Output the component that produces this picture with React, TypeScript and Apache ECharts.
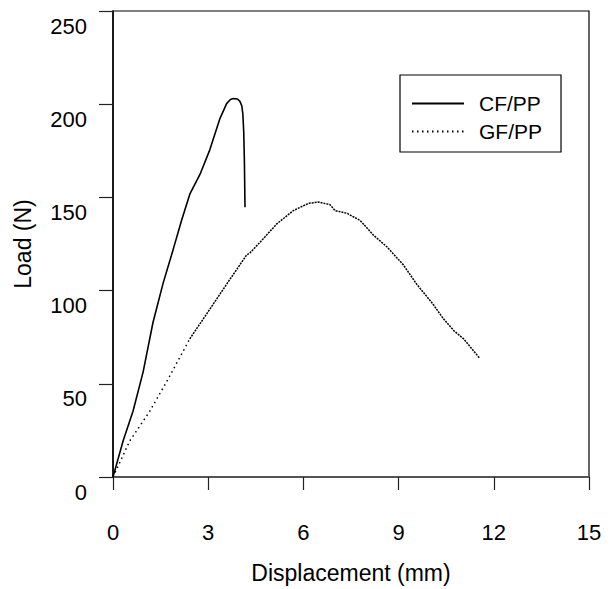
import React, { useEffect, useRef } from "react";
import * as echarts from "echarts";

const xTicks = [0, 3, 6, 9, 12, 15];
const yTicks = [0, 50, 100, 150, 200, 250];

const cfDisp = [0, 0.32, 0.63, 0.95, 1.26, 1.58, 1.89, 2.16, 2.42, 2.74, 3.05, 3.37, 3.58, 3.7, 3.79, 3.92, 4.0, 4.06, 4.09, 4.12, 4.14, 4.16];
const cfLoad = [0, 19.4, 35.3, 56.4, 82.9, 104, 121.7, 137.6, 151.7, 162.3, 175.5, 192.3, 200.3, 202.5, 203, 202.8, 201.5, 199, 195, 185, 170, 144.7];

const gfDisp = [0, 0.53, 1.16, 1.69, 2.42, 3.05, 3.68, 4.21, 4.32, 4.74, 5.16, 5.68, 6.16, 6.47, 6.84, 7.0, 7.37, 7.79, 8.21, 8.63, 9.15, 9.58, 10.05, 10.42, 10.74, 11.05, 11.55];
const gfLoad = [0, 19.4, 35.3, 51.1, 74.1, 90, 105.9, 119.1, 120.3, 127.9, 135.8, 142.9, 146.8, 147.5, 146.1, 142.9, 141.5, 137.6, 129.7, 123.5, 113.8, 103.2, 93.5, 84.7, 78.5, 74.1, 63.8];
const GF_SPLIT = 4;

const seriesNames = ["CF/PP", "GF/PP"];
const xName = "Displacement (mm)";
const yName = "Load (N)";

export default function App() {
  const ref = useRef<HTMLDivElement>(null);
  useEffect(() => {
    const chart = echarts.init(ref.current!, null, { renderer: "svg" });
    const font = "'Liberation Sans', Arial, Helvetica, sans-serif";
    const cf = cfDisp.map((x, i) => [x, cfLoad[i]]);
    const gf = gfDisp.map((x, i) => [x, gfLoad[i]]);
    chart.setOption({
      animation: false,
      backgroundColor: "#fff",
      grid: {
        left: 113,
        right: 22,
        top: 11,
        bottom: 106,
        show: true,
        borderColor: "#000",
        borderWidth: 1.2,
        backgroundColor: "transparent",
      },
      xAxis: {
        type: "value",
        min: xTicks[0],
        max: xTicks[xTicks.length - 1],
        interval: xTicks[1] - xTicks[0],
        name: xName,
        nameLocation: "middle",
        nameGap: 84,
        nameTextStyle: { fontSize: 23, color: "#000", fontFamily: font, lineHeight: 23 },
        axisLine: { onZero: false, lineStyle: { color: "#555", width: 2 } },
        axisTick: { inside: false, length: 13, lineStyle: { color: "#222", width: 1.2 } },
        axisLabel: { margin: 44, fontSize: 22, color: "#000", fontFamily: font, lineHeight: 22 },
        splitLine: { show: false },
      },
      yAxis: {
        type: "value",
        min: yTicks[0],
        max: yTicks[yTicks.length - 1],
        interval: yTicks[1] - yTicks[0],
        name: yName,
        nameLocation: "middle",
        nameGap: 79,
        nameRotate: 90,
        nameTextStyle: { fontSize: 23, color: "#000", fontFamily: font, lineHeight: 23 },
        axisLine: { onZero: false, lineStyle: { color: "#000", width: 1.5 } },
        axisTick: { inside: false, length: 14, lineStyle: { color: "#222", width: 1.2 } },
        axisLabel: {
          margin: 26,
          fontSize: 22,
          color: "#000",
          fontFamily: font,
          lineHeight: 22,
          verticalAlign: "top",
          padding: [4, 0, 0, 0],
        },
        splitLine: { show: false },
      },
      legend: {
        orient: "vertical",
        left: 400,
        top: 75,
        padding: [18, 19, 10, 11],
        itemWidth: 52,
        itemHeight: 14,
        itemGap: 7,
        borderColor: "#000",
        borderWidth: 1.2,
        backgroundColor: "#fff",
        data: seriesNames,
        itemStyle: { opacity: 0 },
        lineStyle: { opacity: 1 },
        textStyle: { fontSize: 21, fontFamily: font, color: "#000", lineHeight: 21, padding: [0, 0, 0, 10] },
      },
      series: [
        {
          name: seriesNames[0],
          type: "line",
          data: cf,
          symbol: "none",
          lineStyle: { color: "#000", width: 1.6, type: "solid" },
          itemStyle: { color: "#000" },
        },
        {
          name: seriesNames[1],
          type: "line",
          data: gf.slice(0, GF_SPLIT + 1),
          symbol: "none",
          lineStyle: { color: "#000", width: 1.5, type: [1.5, 3.5] },
          itemStyle: { color: "#000" },
        },
        {
          name: seriesNames[1],
          type: "line",
          data: gf.slice(GF_SPLIT),
          symbol: "none",
          lineStyle: { color: "#000", width: 1.5, type: [2, 1] },
          itemStyle: { color: "#000" },
        },
      ],
    });
    return () => chart.dispose();
  }, []);
  return <div ref={ref} style={{ position: "fixed", left: 0, top: 0, width: 611, height: 589 }} />;
}
